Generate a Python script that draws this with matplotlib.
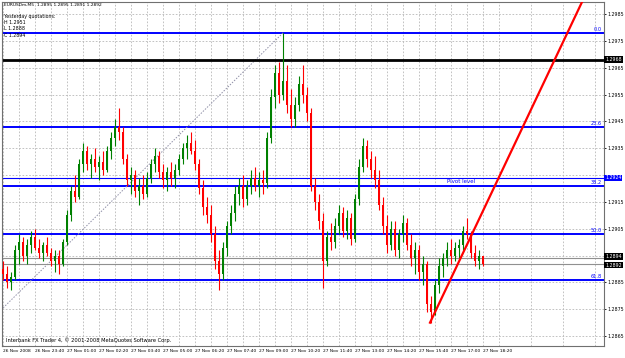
import matplotlib
matplotlib.use("Agg")
import matplotlib.pyplot as plt
import matplotlib.transforms as mtransforms
import numpy as np

# EURUSDm, M5 bars
opens = [
    1.2890, 1.2888, 1.2885, 1.2887, 1.2897, 1.2900, 1.2895, 1.2899, 1.2902, 1.2898,
    1.2896, 1.2899, 1.2896, 1.2893, 1.2895, 1.2892, 1.2900, 1.2910, 1.2919, 1.2917,
    1.2929, 1.2934, 1.2929, 1.2931, 1.2928, 1.2930, 1.2927, 1.2934, 1.2939, 1.2943,
    1.2941, 1.2931, 1.2923, 1.2925, 1.2919, 1.2921, 1.2918, 1.2924, 1.2929, 1.2932,
    1.2926, 1.2923, 1.2926, 1.2924, 1.2927, 1.2931, 1.2935, 1.2937, 1.2934, 1.2929,
    1.2920, 1.2913, 1.2910, 1.2903, 1.2893, 1.2888, 1.2898, 1.2906, 1.2911, 1.2918,
    1.2921, 1.2916, 1.2921, 1.2924, 1.2921, 1.2923, 1.2922, 1.2939, 1.2954, 1.2963,
    1.2955, 1.2960, 1.2951, 1.2946, 1.2951, 1.2959, 1.2955, 1.2948, 1.2921, 1.2915,
    1.2908, 1.2893, 1.2902, 1.2900, 1.2906, 1.2911, 1.2904, 1.2909, 1.2901, 1.2916,
    1.2928, 1.2936, 1.2931, 1.2927, 1.2923, 1.2914, 1.2906, 1.2899, 1.2905, 1.2897,
    1.2903, 1.2907, 1.2899, 1.2894, 1.2897, 1.2889, 1.2892, 1.2877, 1.2874, 1.2884,
    1.2891, 1.2894, 1.2897, 1.2895, 1.2898, 1.2899, 1.2904, 1.2903, 1.2896, 1.2893, 1.2895,
]
highs = [
    1.2893, 1.2891, 1.2889, 1.2899, 1.2903, 1.2902, 1.2901, 1.2904, 1.2905, 1.2901,
    1.2900, 1.2902, 1.2898, 1.2897, 1.2897, 1.2901, 1.2912, 1.2921, 1.2925, 1.2931,
    1.2937, 1.2936, 1.2933, 1.2935, 1.2932, 1.2934, 1.2936, 1.2941, 1.2946, 1.2950,
    1.2943, 1.2933, 1.2928, 1.2927, 1.2924, 1.2925, 1.2926, 1.2931, 1.2935, 1.2934,
    1.2929, 1.2928, 1.2930, 1.2929, 1.2933, 1.2937, 1.2940, 1.2941, 1.2938, 1.2931,
    1.2923, 1.2917, 1.2914, 1.2906, 1.2897, 1.2900, 1.2908, 1.2914, 1.2921, 1.2924,
    1.2925, 1.2923, 1.2927, 1.2928, 1.2926, 1.2927, 1.2941, 1.2957, 1.2966, 1.2967,
    1.2978, 1.2966, 1.2957, 1.2954, 1.2962, 1.2966, 1.2958, 1.2950, 1.2924, 1.2918,
    1.2911, 1.2904, 1.2907, 1.2909, 1.2914, 1.2913, 1.2912, 1.2911, 1.2918, 1.2931,
    1.2939, 1.2938, 1.2934, 1.2932, 1.2927, 1.2917, 1.2910, 1.2908, 1.2908, 1.2905,
    1.2910, 1.2909, 1.2903, 1.2900, 1.2899, 1.2895, 1.2893, 1.2880, 1.2886, 1.2894,
    1.2896, 1.2900, 1.2901, 1.2900, 1.2901, 1.2906, 1.2909, 1.2904, 1.2899, 1.2897, 1.2895,
]
lows = [
    1.2886, 1.2883, 1.2882, 1.2886, 1.2892, 1.2893, 1.2892, 1.2896, 1.2897, 1.2894,
    1.2893, 1.2895, 1.2891, 1.2889, 1.2888, 1.2891, 1.2899, 1.2908, 1.2915, 1.2916,
    1.2926, 1.2927, 1.2924, 1.2926, 1.2923, 1.2925, 1.2926, 1.2931, 1.2936, 1.2938,
    1.2929, 1.2921, 1.2918, 1.2917, 1.2914, 1.2916, 1.2917, 1.2922, 1.2926, 1.2924,
    1.2920, 1.2919, 1.2921, 1.2920, 1.2925, 1.2929, 1.2931, 1.2933, 1.2927, 1.2918,
    1.2910, 1.2907, 1.2900, 1.2890, 1.2882, 1.2886, 1.2895, 1.2903, 1.2908, 1.2914,
    1.2913, 1.2914, 1.2918, 1.2919, 1.2917, 1.2918, 1.2920, 1.2937, 1.2950, 1.2952,
    1.2953, 1.2948, 1.2943, 1.2943, 1.2949, 1.2952, 1.2945, 1.2919, 1.2912, 1.2905,
    1.2883, 1.2891, 1.2897, 1.2898, 1.2903, 1.2902, 1.2901, 1.2899, 1.2900, 1.2914,
    1.2926, 1.2928, 1.2924, 1.2920, 1.2912, 1.2903, 1.2896, 1.2897, 1.2895, 1.2894,
    1.2900, 1.2897, 1.2891, 1.2888, 1.2886, 1.2884, 1.2874, 1.2870, 1.2873, 1.2881,
    1.2887, 1.2891, 1.2892, 1.2893, 1.2894, 1.2897, 1.2901, 1.2894, 1.2891, 1.2890, 1.2891,
]
closes = [
    1.2888, 1.2885, 1.2887, 1.2897, 1.2900, 1.2895, 1.2899, 1.2902, 1.2898, 1.2896,
    1.2899, 1.2896, 1.2893, 1.2895, 1.2892, 1.2900, 1.2910, 1.2919, 1.2917, 1.2929,
    1.2934, 1.2929, 1.2931, 1.2928, 1.2930, 1.2927, 1.2934, 1.2939, 1.2943, 1.2941,
    1.2931, 1.2923, 1.2925, 1.2919, 1.2921, 1.2918, 1.2924, 1.2929, 1.2932, 1.2926,
    1.2923, 1.2926, 1.2924, 1.2927, 1.2931, 1.2935, 1.2937, 1.2934, 1.2929, 1.2920,
    1.2913, 1.2910, 1.2903, 1.2893, 1.2888, 1.2898, 1.2906, 1.2911, 1.2918, 1.2921,
    1.2916, 1.2921, 1.2924, 1.2921, 1.2923, 1.2922, 1.2939, 1.2954, 1.2963, 1.2955,
    1.2960, 1.2951, 1.2946, 1.2951, 1.2959, 1.2955, 1.2948, 1.2921, 1.2915, 1.2908,
    1.2893, 1.2902, 1.2900, 1.2906, 1.2911, 1.2904, 1.2909, 1.2901, 1.2916, 1.2928,
    1.2936, 1.2931, 1.2927, 1.2923, 1.2914, 1.2906, 1.2899, 1.2905, 1.2897, 1.2903,
    1.2907, 1.2899, 1.2894, 1.2897, 1.2889, 1.2892, 1.2877, 1.2874, 1.2884, 1.2891,
    1.2894, 1.2897, 1.2895, 1.2898, 1.2899, 1.2904, 1.2903, 1.2896, 1.2893, 1.2895, 1.2892,
]

time_labels = ["26 Nov 2008", "26 Nov 23:40", "27 Nov 01:00", "27 Nov 02:20",
               "27 Nov 03:40", "27 Nov 05:00", "27 Nov 06:20", "27 Nov 07:40",
               "27 Nov 09:00", "27 Nov 10:20", "27 Nov 11:40", "27 Nov 13:00",
               "27 Nov 14:20", "27 Nov 15:40", "27 Nov 17:00", "27 Nov 18:20"]
price_ticks = [1.2985, 1.2975, 1.2965, 1.2955, 1.2945, 1.2935, 1.2925,
               1.2915, 1.2905, 1.2895, 1.2885, 1.2875, 1.2865]
# these two scale labels sit under the price boxes in the terminal
hidden_ticks = [1.2925, 1.2895]

fib_levels = ["0.0", "23.6", "38.2", "50.0", "61.8"]
fib_prices = [1.2978, 1.2943, 1.2921, 1.2903, 1.2886]
fib_diag_x = [-1, 70]
fib_diag_y = [1.2874, 1.2978]

black_level = 1.2968
pivot_level = 1.2924
ask_price = 1.2894
bid_price = 1.2892

trend_x = [106.75, 150]
trend_y = [1.2870, 1.3006]

header = "EURUSDm,M5  1.2895 1.2895 1.2891 1.2892"
yesterday = ["Yesterday quotations:", "H 1.2951", "L 1.2888", "C 1.2894"]

opens = np.array(opens)
highs = np.array(highs)
lows = np.array(lows)
closes = np.array(closes)
idx = np.arange(len(closes))

fig = plt.figure(figsize=(6.25, 3.58), dpi=100)
ax = fig.add_axes([2 / 625, 12 / 358, 602 / 625, 344 / 358])
ax.set_xlim(-0.25, 150.25)
ax.set_ylim(1.28613, 1.29895)

# axes / grid
ax.set_xticks(np.arange(0, 8 * len(time_labels), 8))
ax.set_xticklabels(time_labels, fontsize=3.2, ha="left")
ax.set_xticks(np.arange(4, 151, 8), minor=True)
ax.tick_params(axis="x", which="both", length=0, pad=2.5)
ax.yaxis.tick_right()
ax.set_yticks(price_ticks)
ax.set_yticklabels(["" if p in hidden_ticks else "%.4f" % p for p in price_ticks],
                   fontsize=3.4)
ax.tick_params(axis="y", length=1.5, width=0.6, pad=1)
ax.grid(axis="x", which="both", color="#b8b8b8", linestyle=(0, (2, 2)), lw=0.6)
ax.grid(axis="y", which="major", color="#b8b8b8", linestyle=(0, (2, 2)), lw=0.6)
ax.set_axisbelow(True)
for sp in ax.spines.values():
    sp.set_color("#707070")
    sp.set_linewidth(0.8)

# horizontal objects
for p in fib_prices:
    ax.axhline(p, color="#0000ff", lw=1.4, zorder=2)
ax.plot(fib_diag_x, fib_diag_y, color="#9090a8", lw=0.7, linestyle=(0, (1.5, 1.5)), zorder=2)
ax.axhline(black_level, color="black", lw=2.0, zorder=2)
ax.axhline(pivot_level, color="#0000ff", lw=0.8, zorder=2)
ax.axhline(ask_price, color="#909090", lw=0.8, zorder=2)
ax.axhline(bid_price, color="#909090", lw=0.8, zorder=2)

# candles
up = closes >= opens
ax.vlines(idx[up], lows[up], highs[up], color="#008000", lw=0.8, zorder=3)
ax.vlines(idx[~up], lows[~up], highs[~up], color="#ff0000", lw=0.8, zorder=3)
ax.bar(idx[up], closes[up] - opens[up], bottom=opens[up], width=0.55,
       color="#008000", zorder=4)
ax.bar(idx[~up], opens[~up] - closes[~up], bottom=closes[~up], width=0.55,
       color="#ff0000", zorder=4)

# trend line
ax.plot(trend_x, trend_y, color="#ff0000", lw=1.6, zorder=5)

# labels
tr = mtransforms.blended_transform_factory(ax.transAxes, ax.transData)
for name, p in zip(fib_levels, fib_prices):
    ax.text(0.996, p + 0.00003, name, transform=tr, fontsize=3.6, color="#0000ff",
            ha="right", va="bottom", zorder=6)
ax.text(0.74, pivot_level - 0.00004, "Pivot level", transform=tr, fontsize=4.0,
        color="#0000ff", ha="left", va="top", zorder=6)

for p, bg, dy in [(black_level, "black", 0), (pivot_level, "#0000ff", 0),
                  (ask_price, "black", 0.00006), (bid_price, "black", -0.00006)]:
    ax.text(1.002, p + dy, "%.4f" % p, transform=tr, fontsize=3.4, color="white",
            ha="left", va="center", zorder=7, clip_on=False,
            bbox=dict(facecolor=bg, edgecolor="none", pad=0.5))

ax.text(0.004, 0.99, header, transform=ax.transAxes, fontsize=3.2, va="center", ha="left")
for k, line in enumerate(yesterday):
    ax.text(0.004, 0.958 - 0.018 * k, line, transform=ax.transAxes, fontsize=3.4,
            va="center", ha="left")
ax.text(0.006, 0.01, "Interbank FX Trader 4, \u00a9 2001-2008 MetaQuotes Software Corp.",
        transform=ax.transAxes, fontsize=3.7, va="bottom", ha="left")

fig.savefig("out.png", dpi=100)
